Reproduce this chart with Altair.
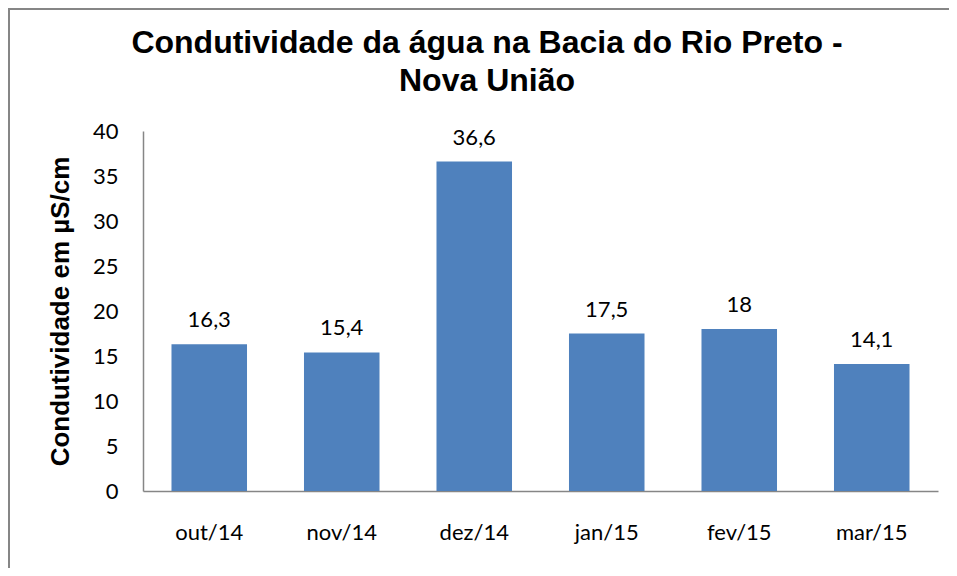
import altair as alt
import pandas as pd

months = ["out/14", "nov/14", "dez/14", "jan/15", "fev/15", "mar/15"]
values = [16.3, 15.4, 36.6, 17.5, 18.0, 14.1]
labels = ["16,3", "15,4", "36,6", "17,5", "18", "14,1"]
y_ticks = [0, 5, 10, 15, 20, 25, 30, 35, 40]
title_lines = ["Condutividade da água na Bacia do Rio Preto -", "Nova União"]

df = pd.DataFrame({"mes": months, "valor": values, "rotulo": labels})
df_title = pd.DataFrame({"linha": title_lines, "ordem": [0, 1]})

AXIS_GRAY = "#868686"
BAR_BLUE = "#4F81BD"
LABEL_FONT = "Lato"

x_enc = alt.X(
    "mes:N",
    sort=months,
    scale=alt.Scale(paddingInner=0.43, paddingOuter=0.215),
    axis=alt.Axis(
        title=None,
        labelAngle=0,
        labelFont=LABEL_FONT,
        labelFontSize=22,
        labelColor="black",
        labelPadding=31,
        ticks=False,
        domainColor=AXIS_GRAY,
        domainWidth=1.5,
        grid=False,
    ),
)

y_enc = alt.Y(
    "valor:Q",
    scale=alt.Scale(domain=[0, 40], nice=False),
    axis=alt.Axis(
        title="Condutividade em µS/cm",
        titleFont="Liberation Sans",
        titleFontSize=26,
        titleFontWeight="bold",
        titleColor="black",
        titleAngle=-90,
        titleX=-83,
        titleY=180,
        titleAlign="center",
        titleBaseline="middle",
        values=y_ticks,
        labelFont=LABEL_FONT,
        labelFontSize=22,
        labelColor="black",
        labelPadding=25,
        ticks=False,
        domainColor=AXIS_GRAY,
        domainWidth=1.5,
        grid=False,
    ),
)

bars = alt.Chart(df).mark_bar(color=BAR_BLUE).encode(x=x_enc, y=y_enc)

texts = alt.Chart(df).mark_text(
    font=LABEL_FONT, fontSize=22, color="black", baseline="alphabetic", dy=-17
).encode(x=alt.X("mes:N", sort=months), y="valor:Q", text="rotulo:N")

title_l1 = alt.Chart(df_title[df_title.ordem == 0]).mark_text(
    font="Liberation Sans", fontSize=32, fontWeight="bold", color="black",
    baseline="alphabetic", align="center"
).encode(x=alt.value(344), y=alt.value(-78), text="linha:N")

title_l2 = alt.Chart(df_title[df_title.ordem == 1]).mark_text(
    font="Liberation Sans", fontSize=32, fontWeight="bold", color="black",
    baseline="alphabetic", align="center"
).encode(x=alt.value(344), y=alt.value(-40), text="linha:N")

border_top = alt.Chart(df_title[df_title.ordem == 0]).mark_rule(
    color=AXIS_GRAY, strokeWidth=2
).encode(x=alt.value(-134), x2=alt.value(830), y=alt.value(-122))

border_left = alt.Chart(df_title[df_title.ordem == 0]).mark_rule(
    color=AXIS_GRAY, strokeWidth=2
).encode(x=alt.value(-134), y=alt.value(-123), y2=alt.value(460))

chart = alt.layer(border_top, border_left, bars, texts, title_l1, title_l2).properties(
    width=795,
    height=360,
    background="white",
    autosize=alt.AutoSizeParams(type="none"),
    padding={"left": 135, "top": 123, "right": 11, "bottom": 77},
).configure_view(strokeWidth=0, stroke="transparent")

chart.save("out.html", embed_options={"renderer": "svg", "actions": False})
